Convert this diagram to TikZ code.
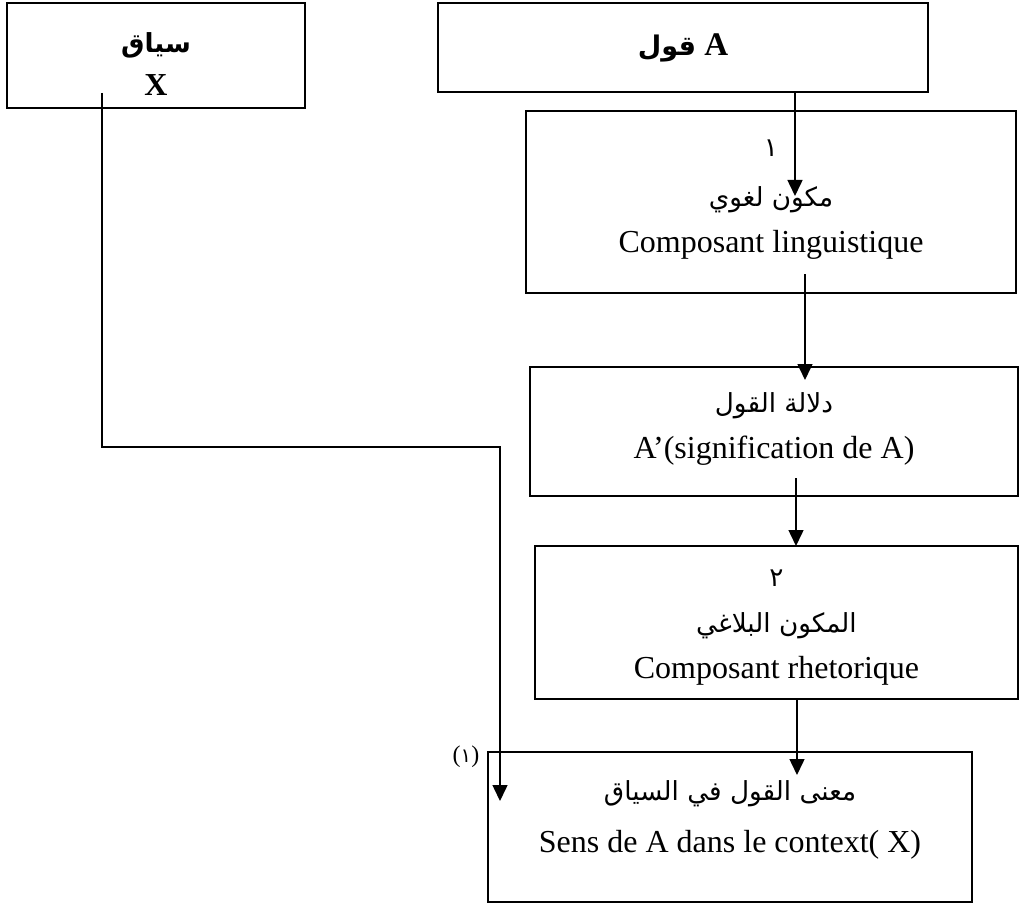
\documentclass[tikz,border=0pt]{standalone}
\usepackage{fontspec}
\setmainfont{Liberation Serif}
\newfontfamily\arabicfont[Script=Arabic,Scale=0.82]{DejaVu Sans}
\TeXXeTstate=1
\usetikzlibrary{arrows.meta}
\newcommand{\rtl}[1]{{\arabicfont\beginR #1\endR}}
\tikzset{
  box/.style={line width=2pt},
  lbl/.style={align=center, inner sep=0pt, font=\fontsize{32}{46}\selectfont},
  arr/.style={line width=1.5pt, -{Triangle[width=15pt,length=16pt]}},
}
\begin{document}
\begin{tikzpicture}[x=1pt,y=-1pt]
    \useasboundingbox (0,0) rectangle (1020,904);
    \draw[box] (7,3) rectangle (305,108) node[pos=.5, lbl, yshift=-9pt] (siyaq) {\textbf{\rtl{سياق}}\\[-3pt]\textbf{X}};
    \draw[box] (438,3) rectangle (928,92) node[pos=.5, lbl, font=\fontsize{33}{40}\selectfont\bfseries] (qawl) {\beginR A {\arabicfont قول}\endR};
    \draw[box] (526,111) rectangle (1016,293) node[pos=.5, lbl, yshift=2pt] (lughawi) {\rtl{١}\\[4pt]\rtl{مكون لغوي}\\Composant linguistique};
    \draw[box] (530,367) rectangle (1018,496) node[pos=.5, lbl, yshift=3pt] (dalala) {\rtl{دلالة القول}\\A’(signification de A)};
    \draw[box] (535,546) rectangle (1018,699) node[pos=.5, lbl, yshift=-5pt] (balagh) {\rtl{٢}\\\rtl{المكون البلاغي}\\Composant rhetorique};
    \draw[box] (488,752) rectangle (972,902) node[pos=.5, lbl, yshift=7pt] (maana) {\rtl{معنى القول في السياق}\\[6pt]Sens de A dans le context( X)};
    \node[font=\fontsize{24}{28}\selectfont, inner sep=0pt] (ref1) at (466,757) {(\rtl{١})};
    % connectors
    \coordinate (qawl-out) at (795,92);
    \coordinate (lughawi-in) at (795,196);
    \coordinate (lughawi-out) at (805,274);
    \coordinate (dalala-in) at (805,380);
    \coordinate (dalala-out) at (796,478);
    \coordinate (balagh-in) at (796,546);
    \coordinate (balagh-out) at (797,699);
    \coordinate (maana-in) at (797,775);
    \coordinate (siyaq-out) at (102,93);
    \coordinate (bend) at (500,447);
    \coordinate (maana-side) at (500,801);
    \draw[arr] (qawl-out) -- (lughawi-in);
    \draw[arr] (lughawi-out) -- (dalala-in);
    \draw[arr] (dalala-out) -- (balagh-in);
    \draw[arr] (balagh-out) -- (maana-in);
    \draw[arr] (siyaq-out) |- (bend) -- (maana-side);
\end{tikzpicture}
\end{document}
